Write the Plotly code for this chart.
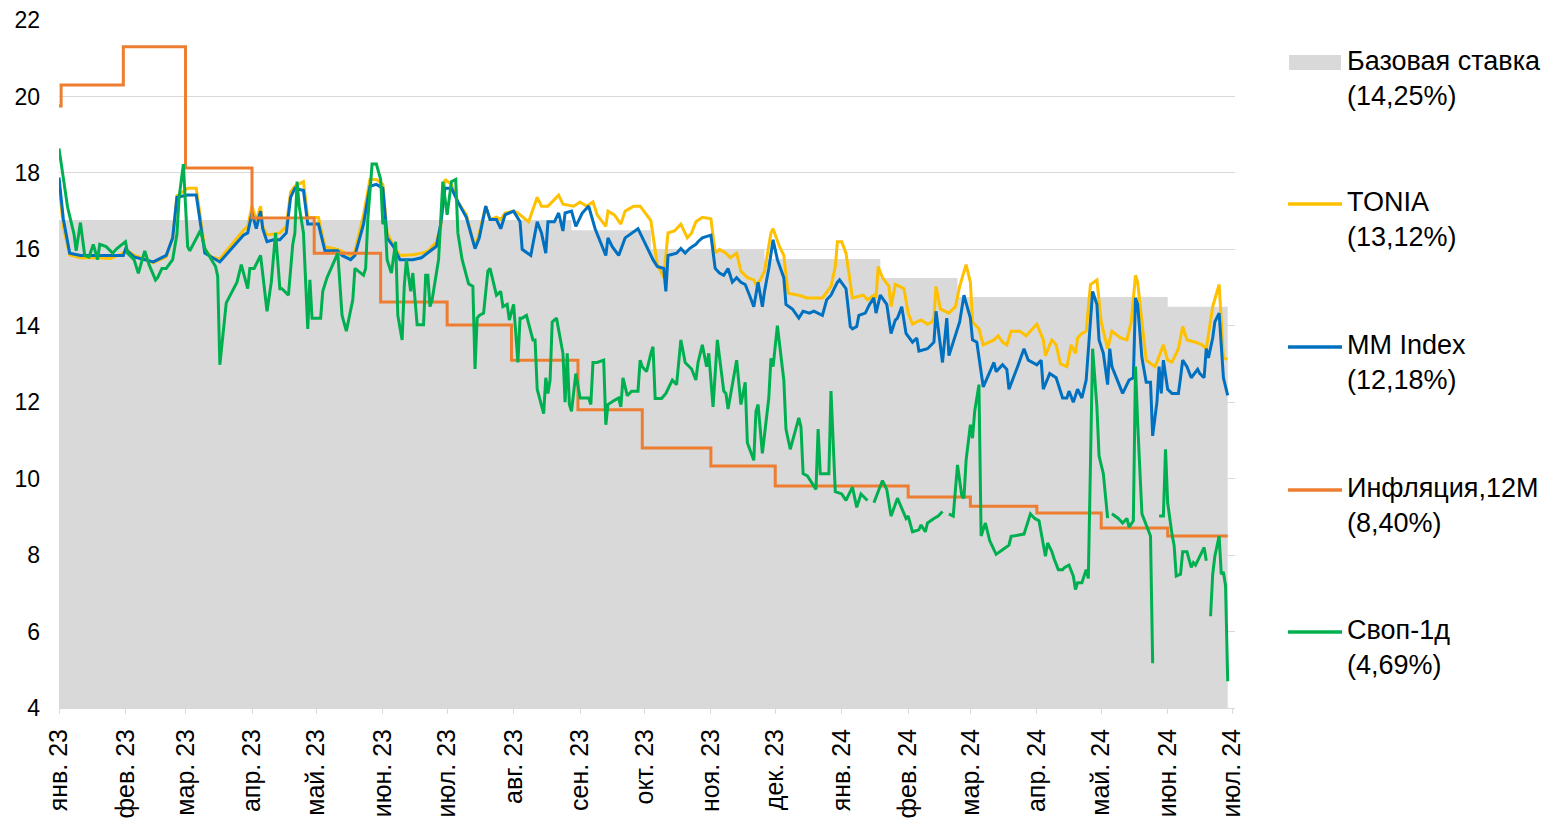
import pandas as pd
import plotly.graph_objects as go

START = pd.Timestamp("2023-01-01")

# ---- Base rate (gray area), step series: days since 1 Jan 2023 ----
base_days = [0, 239, 276, 329, 383, 419, 517, 545]
base_vals = [16.77, 16.5, 16.0, 15.75, 15.25, 14.75, 14.5, 14.5]

# ---- Inflation 12M (step) ----
infl_days = [0, 1, 30, 59, 90, 119, 150, 181, 211, 242, 272, 304, 334, 396, 425, 456, 486, 517, 545]
infl_vals = [19.75, 20.3, 21.3, 18.13, 16.82, 15.9, 14.62, 14.02, 13.1, 11.8, 10.8, 10.33, 9.81,
             9.52, 9.28, 9.1, 8.71, 8.5, 8.5]

# ---- TONIA ----
tonia_days = [0, 2, 5, 10, 17, 24, 30, 31, 35, 44, 50, 53, 55, 60, 64, 68, 71, 75, 86, 88, 90, 92, 94, 95,
              97, 100, 103, 106, 108, 110, 114, 116, 121, 124, 130, 136, 138, 142, 145, 148, 151, 153, 156,
              159, 165, 169, 172, 176, 178, 180, 183, 186, 190, 193, 194, 196, 199, 201, 204, 206, 208, 212,
              214, 219, 223, 225, 228, 231, 233, 235, 240, 243, 246, 249, 251, 255, 256, 259, 262, 264, 268,
              271, 274, 276, 279, 282, 284, 287, 290, 291, 293, 295, 297, 300, 304, 306, 308, 311, 313, 316,
              318, 321, 324, 325, 327, 329, 332, 333, 336, 338, 340, 345, 349, 356, 360, 362, 363, 365, 367,
              370, 375, 377, 380, 381, 382, 384, 387, 388, 390, 392, 394, 396, 398, 400, 402, 405, 407, 408,
              409, 411, 413, 415, 418, 420, 423, 425, 426, 429, 431, 434, 436, 438, 440, 442, 444, 448, 451,
              454, 456, 459, 460, 462, 463, 465, 467, 470, 472, 474, 475, 477, 479, 481, 484, 486, 489, 491,
              495, 498, 500, 502, 503, 505, 507, 511, 512, 515, 517, 519, 522, 524, 526, 530, 533, 535, 538,
              541, 543, 545]
tonia_vals = [17.7, 16.6, 15.85, 15.78, 15.78, 15.76, 15.9, 16.0, 15.85, 15.65, 15.8, 16.3, 17.4, 17.6, 17.6,
              16.0, 15.8, 15.75, 16.5, 16.6, 17.13, 16.75, 17.13, 16.6, 16.37, 16.4, 16.43, 16.6, 17.5, 17.65,
              17.77, 16.83, 16.83, 16.07, 16.0, 15.84, 15.95, 16.9, 17.83, 17.83, 17.7, 16.43, 16.1, 15.84,
              15.86, 15.9, 15.95, 16.2, 16.6, 17.83, 17.7, 17.24, 16.9, 16.25, 16.07, 16.43, 17.13, 16.78,
              16.84, 16.78, 16.95, 17.0, 16.95, 16.72, 17.36, 17.13, 17.13, 17.3, 17.42, 17.18, 17.13, 17.24,
              17.13, 17.24, 16.9, 16.6, 17.0, 16.9, 16.66, 17.0, 17.13, 17.13, 16.9, 16.75, 15.6, 15.26, 16.43,
              16.48, 16.66, 16.54, 16.3, 16.43, 16.72, 16.84, 16.8, 15.9, 16.0, 15.9, 15.78, 15.9, 15.43, 15.26,
              15.2, 15.08, 15.2, 15.43, 16.43, 16.54, 16.07, 15.84, 14.85, 14.8, 14.73, 14.73, 15.03, 15.55,
              16.2, 16.2, 15.9, 14.73, 14.8, 14.68, 14.8, 14.73, 15.55, 15.26, 15.03, 14.5, 15.08, 15.03, 14.97,
              14.33, 14.04, 14.1, 14.15, 14.04, 14.1, 14.2, 15.03, 14.44, 14.38, 14.33, 14.5, 15.03, 15.6,
              15.14, 14.1, 13.92, 13.5, 13.57, 13.63, 13.74, 13.57, 13.5, 13.86, 13.86, 13.74, 13.92, 14.04,
              13.63, 13.22, 13.5, 13.63, 13.5, 13.0, 12.93, 13.5, 13.28, 13.68, 13.8, 13.86, 15.08, 15.2, 14.1,
              13.4, 13.86, 13.68, 13.63, 14.1, 15.32, 15.14, 14.1, 13.1, 12.93, 13.05, 13.5, 13.1, 13.05, 13.4,
              13.98, 13.63, 13.57, 13.5, 13.4, 14.5, 15.08, 13.16, 13.12]

# ---- MM Index ----
mm_days = [0, 2, 5, 10, 19, 30, 31, 35, 44, 50, 53, 55, 60, 64, 68, 75, 86, 88, 90, 92, 94, 95, 97, 100, 103,
           106, 108, 110, 114, 116, 121, 124, 130, 132, 136, 138, 142, 145, 148, 151, 153, 156, 159, 165, 169,
           172, 176, 178, 180, 183, 186, 190, 193, 194, 196, 199, 201, 204, 206, 208, 212, 215, 216, 220, 223,
           225, 227, 228, 231, 233, 235, 236, 239, 241, 244, 247, 250, 255, 256, 258, 261, 264, 270, 273, 277,
           279, 282, 283, 284, 288, 290, 292, 294, 297, 298, 300, 304, 306, 308, 310, 312, 314, 316, 318, 320,
           322, 324, 326, 328, 329, 331, 333, 335, 338, 339, 342, 345, 347, 350, 352, 356, 358, 360, 363, 364,
           367, 369, 370, 372, 373, 376, 378, 380, 381, 383, 386, 388, 390, 391, 393, 395, 398, 400, 401, 405,
           408, 409, 412, 414, 415, 418, 420, 422, 425, 426, 428, 431, 433, 436, 437, 440, 442, 443, 447, 450,
           452, 454, 456, 458, 459, 462, 465, 468, 470, 471, 473, 475, 477, 479, 482, 484, 485, 487, 489, 490,
           491, 496, 499, 501, 502, 503, 505, 507, 509, 510, 512, 513, 514, 515, 517, 519, 522, 523, 524, 526,
           528, 531, 532, 534, 535, 536, 538, 539, 541, 543, 545]
mm_vals = [17.88, 16.8, 15.9, 15.84, 15.84, 15.84, 16.0, 15.8, 15.67, 15.84, 16.3, 17.36, 17.42, 17.42, 15.9,
           15.67, 16.37, 16.43, 16.95, 16.54, 17.0, 16.54, 16.2, 16.25, 16.25, 16.43, 17.36, 17.6, 17.54, 16.66,
           16.66, 15.96, 15.96, 15.84, 15.73, 15.84, 16.66, 17.65, 17.7, 17.6, 16.3, 16.07, 15.73, 15.73, 15.78,
           15.9, 16.08, 16.66, 17.6, 17.6, 17.24, 16.83, 16.2, 16.02, 16.3, 17.13, 16.78, 16.78, 16.54, 16.9,
           17.0, 16.72, 16.0, 15.84, 16.72, 16.43, 15.9, 16.72, 16.72, 16.95, 16.48, 16.95, 17.0, 16.6, 16.95,
           17.13, 16.54, 15.84, 16.3, 16.07, 15.84, 16.3, 16.54, 16.2, 15.73, 15.55, 15.5, 14.9, 15.84, 15.9,
           16.02, 15.9, 16.02, 16.13, 16.2, 16.3, 16.37, 15.5, 15.38, 15.32, 15.5, 15.14, 15.26, 15.14, 15.08,
           14.8, 14.5, 15.14, 14.5, 14.9, 15.5, 16.25, 15.73, 15.26, 14.56, 14.44, 14.2, 14.38, 14.33, 14.38,
           14.27, 14.68, 14.8, 15.14, 15.2, 14.97, 13.98, 13.92, 13.98, 14.27, 14.33, 14.56, 14.73, 14.33, 14.8,
           14.56, 13.8, 14.15, 14.2, 14.5, 13.8, 13.57, 13.68, 13.34, 13.4, 13.57, 14.38, 13.04, 14.2, 13.22,
           13.74, 14.1, 14.8, 14.2, 13.63, 13.57, 12.4, 12.64, 13.04, 12.8, 12.98, 12.86, 12.34, 12.93, 13.4,
           13.1, 13.04, 12.98, 13.1, 12.34, 12.75, 12.64, 12.11, 12.11, 12.29, 12.0, 12.34, 12.11, 12.58, 14.9,
           14.56, 13.63, 13.28, 12.46, 13.4, 12.93, 12.23, 12.58, 12.64, 14.73, 14.56, 13.16, 12.52, 12.52,
           11.12, 12.0, 12.93, 12.23, 13.1, 12.34, 12.23, 12.23, 12.64, 13.1, 12.93, 12.64, 12.86, 12.75, 12.64,
           13.4, 13.16, 13.68, 14.1, 14.33, 12.64, 12.18]

# ---- Swap 1d (None = missing data) ----
swap_days = [0, 4, 7, 8, 10, 12, 14, 16, 18, 19, 22, 25, 27, 31, 32, 35, 37, 40, 42, 45, 46, 48, 50, 53, 55,
             56, 58, 60, 61, 64, 66, 68, 70, 73, 74, 75, 78, 83, 85, 88, 89, 91, 94, 97, 99, 101, 103, 104,
             107, 109, 110, 111, 112, 114, 116, 117, 118, 122, 123, 125, 130, 132, 134, 137, 138, 142, 143, 144,
             146, 148, 150, 151, 152, 153, 155, 157, 158, 160, 161, 162, 164, 165, 167, 170, 171, 172, 173, 174,
             177, 179, 181, 183, 185, 186, 188, 191, 193, 194, 195, 196, 198, 200, 201, 204, 206, 207, 209, 210,
             212, 214, 215, 216, 218, 221, 222, 223, 226, 227, 228, 229, 230, 232, 235, 236, 237, 238, 239, 241,
             243, 247, 248, 249, 251, 254, 255, 256, 259, 261, 262, 263, 265, 267, 270, 271, 272, 274, 276, 277,
             278, 281, 283, 286, 288, 290, 292, 295, 297, 298, 300, 302, 303, 304, 305, 307, 310, 311, 312, 314,
             316, 318, 320, 321, 324, 325, 326, 328, 331, 332, 333, 335, 338, 339, 341, 343, 345, 346, 347, 349,
             351, 353, 354, 355, 359, 360, 362, 365, 367, 369, 370, 372, 374, 377, 378, 380, 382, 384, 386, 388,
             391, 393, 395, 396, 398, 401, 402, 404, 405, 408, 410, 412, 413, 415, 417, 419, 421, 422, 423, 425,
             426, 427, 429, 430, 432, 434, 437, 440, 443, 444, 450, 453, 455, 457, 460, 461, 463, 464, 466, 468,
             469, 471, 473, 474, 475, 477, 479, 480, 482, 484, 485, 487, 489, 490, 491, 494, 496, 498, 499, 501,
             502, 503, 505, 509, 510, 511, 513, 515, 516, 517, 519, 520, 521, 523, 524, 526, 528, 529, 530, 532,
             534, 535, 536, 537, 538, 539, 541, 542, 543, 544, 545]
swap_vals = [18.64, 17.1, 16.4, 15.96, 16.7, 15.84, 15.8, 16.13, 15.73, 16.13, 16.07, 15.9, 16.02, 16.2, 15.9,
             15.73, 15.37, 15.96, 15.6, 15.2, 15.26, 15.5, 15.5, 15.73, 16.4, 17.36, 18.23, 16.07, 15.96, 16.3,
             16.5, 16.02, 15.84, 15.55, 15.3, 12.98, 14.6, 15.14, 15.6, 14.97, 15.5, 15.5, 15.84, 14.38, 15.14,
             16.43, 14.97, 14.97, 14.8, 16.13, 16.43, 17.77, 17.13, 16.43, 13.92, 15.2, 14.2, 14.2, 14.9, 15.26,
             15.9, 14.27, 13.86, 14.68, 15.5, 15.32, 15.5, 16.78, 18.23, 18.23, 17.83, 16.66, 16.78, 15.73,
             15.38, 16.2, 14.27, 13.63, 15.03, 15.73, 14.9, 15.38, 14.03, 14.03, 15.32, 15.32, 14.5, 14.68,
             15.73, 17.77, 16.9, 17.77, 17.83, 16.43, 15.73, 15.1, 15.03, 12.87, 14.2, 14.27, 14.33, 15.43,
             15.5, 14.8, 14.9, 14.5, 14.56, 14.15, 14.56, 13.04, 14.2, 14.2, 14.27, 13.63, 13.63, 12.34, 11.7,
             12.64, 12.23, 12.58, 14.1, 14.2, 13.28, 12.0, 13.28, 11.94, 11.76, 12.75, 12.11, 12.11, 11.94,
             13.04, 13.04, 13.1, 11.41, 11.94, 12.05, 12.11, 11.88, 12.64, 12.17, 12.29, 12.29, 13.1, 12.93,
             12.8, 13.28, 13.45, 12.1, 12.1, 12.23, 12.58, 12.46, 13.63, 13.04, 12.87, 12.58, 13.04, 13.5,
             12.93, 13.28, 12.58, 11.88, 13.63, 12.29, 12.23, 11.82, 12.46, 13.1, 11.94, 12.52, 10.94, 10.48,
             11.76, 11.94, 10.66, 12.11, 13.15, 12.93, 14.0, 12.58, 11.3, 10.77, 11.18, 11.59, 11.35, 10.13,
             10.07, 9.9, 9.72, 11.3, 10.13, 10.13, 12.29, 9.66, 9.6, 9.43, 9.66, 9.78, 9.25, 9.6, 9.43, None,
             9.37, 9.66, 9.95, 9.72, 9.02, 9.49, 9.2, 8.96, 9.02, 8.61, 8.66, 8.79, 8.61, 8.84, 8.96, 9.02, 9.14,
             None, 9.08, 9.02, 10.36, 9.55, 9.49, 10.48, 11.41, 11.06, 11.76, 12.46, 8.5, 8.84, 8.38, 8.02,
             8.14, 8.26, 8.49, 8.55, 9.08, 8.96, 8.9, 7.97, 8.32, 8.09, 7.91, 7.62, 7.62, 7.68, 7.74, 7.45, 7.1,
             7.28, 7.28, 7.62, 7.39, 13.4, 11.88, 10.6, 10.13, 8.97, None, 9.08, 8.96, 8.84, 8.96, 8.73, 8.9,
             12.93, 11.47, 9.08, 8.5, 5.17, None, 9.02, 9.02, 10.77, 9.37, 8.55, 8.26, 7.45, 7.5, 8.09, 8.09,
             7.68, 7.8, 7.74, 7.97, 8.2, 7.85, None, 6.4, 7.5, 7.97, 8.5, 7.5, 7.56, 7.2, 4.7]

# ---- labels ----
month_labels = ["янв. 23", "фев. 23", "мар. 23", "апр. 23", "май. 23", "июн. 23", "июл. 23", "авг. 23",
                "сен. 23", "окт. 23", "ноя. 23", "дек. 23", "янв. 24", "фев. 24", "мар. 24", "апр. 24",
                "май. 24", "июн. 24", "июл. 24"]
legend_names = ["Базовая ставка", "TONIA", "MM Index", "Инфляция,12M", "Своп-1д"]
legend_last = ["14,25%", "13,12%", "12,18%", "8,40%", "4,69%"]

# ---- styling ----
C_BASE, C_TONIA, C_MM, C_INFL, C_SWAP = "#D9D9D9", "#FFC000", "#0070C0", "#ED7D31", "#00B050"
FONT = "Liberation Sans, Arial, sans-serif"


def to_dates(days):
    return [START + pd.Timedelta(days=d) for d in days]


fig = go.Figure()
fig.add_trace(go.Scatter(x=to_dates(base_days), y=base_vals, mode="lines", line=dict(width=0, shape="hv"),
                         fill="tozeroy", fillcolor=C_BASE, hoverinfo="skip"))
fig.add_trace(go.Scatter(x=to_dates(tonia_days), y=tonia_vals, mode="lines",
                         line=dict(color=C_TONIA, width=3)))
fig.add_trace(go.Scatter(x=to_dates(mm_days), y=mm_vals, mode="lines", line=dict(color=C_MM, width=3)))
fig.add_trace(go.Scatter(x=to_dates(infl_days), y=infl_vals, mode="lines",
                         line=dict(color=C_INFL, width=3, shape="hv")))
fig.add_trace(go.Scatter(x=to_dates(swap_days), y=swap_vals, mode="lines", connectgaps=False,
                         line=dict(color=C_SWAP, width=3)))

PLOT_L, PLOT_R, PLOT_T, PLOT_B = 59, 1235, 20, 708
W, H = 1552, 820
pw, ph = PLOT_R - PLOT_L, PLOT_B - PLOT_T

tick_dates = list(pd.date_range("2023-01-01", "2024-07-01", freq="MS"))
x_end = START + pd.Timedelta(days=548.4)

fig.update_layout(
    template="none",
    width=W, height=H,
    margin=dict(l=PLOT_L, r=W - PLOT_R, t=PLOT_T, b=H - PLOT_B, pad=0, autoexpand=False),
    paper_bgcolor="white", plot_bgcolor="white",
    showlegend=False,
    font=dict(family=FONT, color="#000000"),
    xaxis=dict(type="date", range=[START, x_end], tickvals=tick_dates, ticktext=month_labels,
               tickangle=-90, tickfont=dict(size=25, family=FONT, color="#000000"), automargin=False,
               showgrid=False, showline=True, linecolor="#D9D9D9", linewidth=1,
               ticks="outside", ticklen=5, tickcolor="#D9D9D9", ticklabelstandoff=5, zeroline=False),
    yaxis=dict(range=[4, 22], dtick=2, tick0=4, showgrid=True, gridcolor="#D9D9D9", gridwidth=1,
               automargin=False, zeroline=False, showline=False, ticks="",
               tickfont=dict(size=23, family=FONT, color="#000000"), ticklabelstandoff=18),
)

# ---- legend drawn at right (symbols + two-line labels) ----
def px_x(p):
    return (p - PLOT_L) / pw


def px_y(p):
    return (PLOT_B - p) / ph


first_line_y = [62, 203, 346, 489, 631]
colors = [C_BASE, C_TONIA, C_MM, C_INFL, C_SWAP]
for i, (name, last) in enumerate(zip(legend_names, legend_last)):
    yc = first_line_y[i]
    if i == 0:
        fig.add_shape(type="rect", xref="paper", yref="paper", x0=px_x(1289), x1=px_x(1341),
                      y0=px_y(70), y1=px_y(55), fillcolor=C_BASE, line=dict(width=0))
    else:
        fig.add_shape(type="line", xref="paper", yref="paper", x0=px_x(1288), x1=px_x(1342),
                      y0=px_y(yc + 1), y1=px_y(yc + 1), line=dict(color=colors[i], width=3.5))
    fig.add_annotation(xref="paper", yref="paper", x=px_x(1345), y=px_y(yc - 18), xanchor="left",
                       yanchor="top", align="left", showarrow=False,
                       text=f"{name}<br>({last})", font=dict(size=27, family=FONT, color="#000000"))

fig.write_html("out.html", config={"displayModeBar": False},
               post_script="document.body.style.margin='0px';")
